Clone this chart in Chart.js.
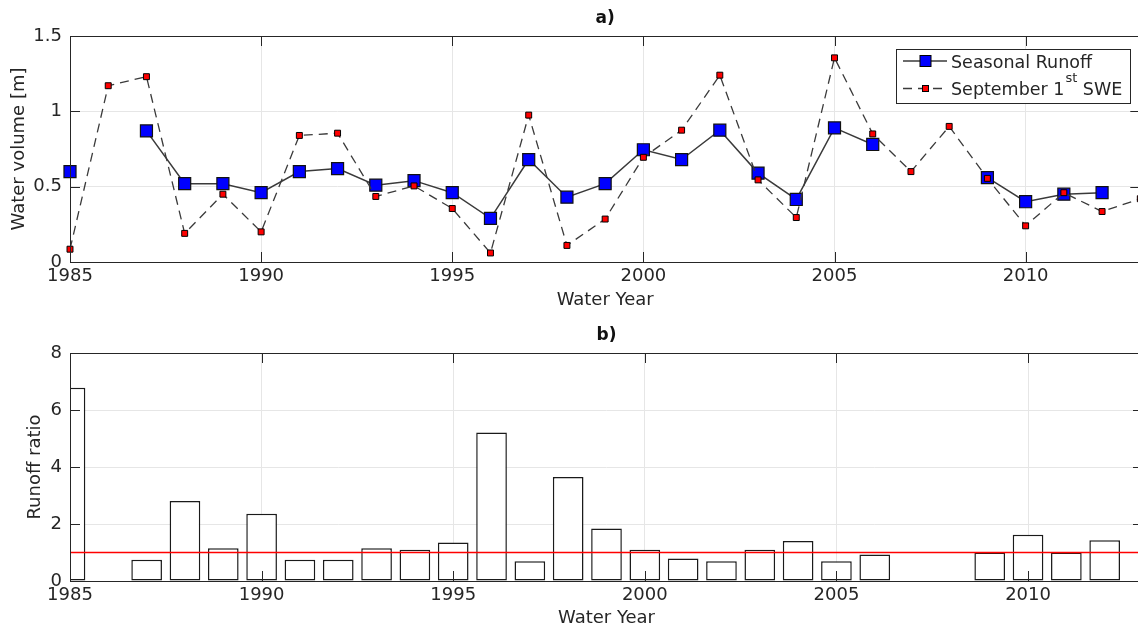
<!DOCTYPE html>
<html>
<head>
<meta charset="utf-8">
<script src="https://cdn.jsdelivr.net/npm/chart.js@4/dist/chart.umd.min.js"></script>
<style>
  html, body { margin: 0; padding: 0; background: #fff; overflow: hidden; width: 1138px; height: 630px; }
  .panel { position: absolute; left: 0; width: 1150px; }
  #top { top: 0; height: 320px; }
  #bottom { top: 320px; height: 310px; }
</style>
</head>
<body>
<div class="panel" id="top"><canvas id="volChart" width="1150" height="320"></canvas></div>
<div class="panel" id="bottom"><canvas id="ratioChart" width="1150" height="310"></canvas></div>
<script>
// data
const years = [1985, 1986, 1987, 1988, 1989, 1990, 1991, 1992, 1993, 1994,
               1995, 1996, 1997, 1998, 1999, 2000, 2001, 2002, 2003, 2004,
               2005, 2006, 2007, 2008, 2009, 2010, 2011, 2012, 2013];
const seasonalRunoff = [0.60, null, 0.87, 0.52, 0.52, 0.46, 0.60, 0.62, 0.51, 0.54,
                        0.46, 0.29, 0.68, 0.43, 0.52, 0.745, 0.68, 0.875, 0.59, 0.415,
                        0.89, 0.78, null, null, 0.56, 0.40, 0.45, 0.46, null];
const septSWE = [0.085, 1.17, 1.23, 0.19, 0.45, 0.20, 0.84, 0.855, 0.435, 0.505,
                 0.355, 0.06, 0.975, 0.11, 0.285, 0.695, 0.875, 1.24, 0.545, 0.295,
                 1.355, 0.85, 0.60, 0.90, 0.555, 0.24, 0.46, 0.335, 0.42];
const runoffRatio = [6.78, null, 0.75, 2.81, 1.15, 2.36, 0.75, 0.75, 1.15, 1.10,
                     1.35, 5.21, 0.69, 3.65, 1.84, 1.10, 0.79, 0.69, 1.10, 1.40,
                     0.69, 0.93, null, null, 1.0, 1.62, 1.0, 1.43, null];
const refYears = [1985, 2013];
const refRatio = [1, 1];

const yearTicks = [1985, 1990, 1995, 2000, 2005, 2010];
const volTicks = [0, 0.5, 1, 1.5];
const ratioTicks = [0, 2, 4, 6, 8];

const FONT = '"DejaVu Sans", sans-serif';
const INK = '#262626';
Chart.defaults.font.family = FONT;
Chart.defaults.color = INK;

// box, inward ticks and panel title, matlab style
const matlabFrame = {
  id: 'matlabFrame',
  afterDatasetsDraw(chart, args, opts) {
    const {ctx, chartArea: a, scales: {x, y}} = chart;
    ctx.save();
    ctx.strokeStyle = INK;
    ctx.lineWidth = 1;
    ctx.beginPath();
    x.ticks.forEach(t => {
      const px = Math.round(x.getPixelForValue(t.value)) + 0.5;
      ctx.moveTo(px, a.bottom); ctx.lineTo(px, a.bottom - 10);
      ctx.moveTo(px, a.top); ctx.lineTo(px, a.top + 10);
    });
    y.ticks.forEach(t => {
      const py = Math.round(y.getPixelForValue(t.value)) + 0.5;
      ctx.moveTo(a.left, py); ctx.lineTo(a.left + 10, py);
      ctx.moveTo(a.right, py); ctx.lineTo(a.right - 10, py);
    });
    ctx.stroke();
    ctx.strokeRect(Math.round(a.left) + 0.5, Math.round(a.top) + 0.5,
                   Math.round(a.width), Math.round(a.height));
    ctx.fillStyle = '#111';
    ctx.font = 'bold 17px ' + FONT;
    ctx.textAlign = 'center';
    ctx.textBaseline = 'middle';
    ctx.fillText(opts.title, (a.left + a.right) / 2, a.top - 17);
    ctx.restore();
  }
};

// legend with the superscript
const volLegend = {
  id: 'volLegend',
  afterDraw(chart) {
    const ctx = chart.ctx;
    ctx.save();
    ctx.fillStyle = '#fff';
    ctx.fillRect(896.5, 49.5, 234, 54);
    ctx.strokeStyle = INK;
    ctx.lineWidth = 1;
    ctx.strokeRect(896.5, 49.5, 234, 54);

    ctx.strokeStyle = '#3a3a3a';
    ctx.lineWidth = 1.3;
    ctx.beginPath(); ctx.moveTo(903, 61); ctx.lineTo(947, 61); ctx.stroke();
    ctx.setLineDash([9, 6]);
    ctx.beginPath(); ctx.moveTo(903, 88.5); ctx.lineTo(947, 88.5); ctx.stroke();
    ctx.setLineDash([]);

    ctx.lineWidth = 1;
    ctx.strokeStyle = '#000';
    ctx.fillStyle = '#0000ff';
    ctx.fillRect(920, 55.5, 11, 11); ctx.strokeRect(920, 55.5, 11, 11);
    ctx.fillStyle = '#ff0000';
    ctx.fillRect(922.5, 85.5, 6, 6); ctx.strokeRect(922.5, 85.5, 6, 6);

    ctx.fillStyle = INK;
    ctx.textBaseline = 'alphabetic';
    ctx.textAlign = 'left';
    ctx.font = '17.5px ' + FONT;
    ctx.fillText('Seasonal Runoff', 951, 67.5);
    let x = 951;
    ctx.fillText('September 1', x, 94.5);
    x += ctx.measureText('September 1').width + 1;
    ctx.font = '13px ' + FONT;
    ctx.fillText('st', x, 82);
    x += ctx.measureText('st').width;
    ctx.font = '17.5px ' + FONT;
    ctx.fillText(' SWE', x, 94.5);
    ctx.restore();
  }
};

function yearAxis(height, titlePad) {
  return {
    type: 'linear', min: 1985, max: 2013, offset: false,
    afterBuildTicks: s => { s.ticks = yearTicks.map(v => ({value: v})); },
    afterFit: s => { s.height = height; },
    grid: {color: '#e6e6e6', drawTicks: false, offset: false},
    border: {display: false},
    ticks: {padding: 4, font: {size: 18}, color: INK, autoSkip: false, maxRotation: 0,
            callback: v => String(v)},
    title: {display: true, text: 'Water Year', font: {size: 18}, color: INK,
            padding: {top: 0, bottom: titlePad}}
  };
}

function valueAxis(tickVals, label, titlePad) {
  return {
    type: 'linear', min: tickVals[0], max: tickVals[tickVals.length - 1],
    afterBuildTicks: s => { s.ticks = tickVals.map(v => ({value: v})); },
    afterFit: s => { s.width = 70; },
    grid: {color: '#e6e6e6', drawTicks: false},
    border: {display: false},
    ticks: {padding: 8, font: {size: 18}, color: INK, callback: v => String(v)},
    title: {display: true, text: label, font: {size: 18}, color: INK,
            padding: {top: titlePad, bottom: 0}}
  };
}

new Chart(document.getElementById('volChart'), {
  type: 'line',
  data: {
    labels: years,
    datasets: [
      {
        label: 'September 1st SWE',
        data: septSWE,
        borderColor: '#3a3a3a', borderWidth: 1.3, borderDash: [9, 6],
        pointStyle: 'rect', pointRadius: 4.2,
        pointBackgroundColor: '#ff0000', pointBorderColor: '#000', pointBorderWidth: 1,
        tension: 0, clip: false, order: 0
      },
      {
        label: 'Seasonal Runoff',
        data: seasonalRunoff,
        borderColor: '#3a3a3a', borderWidth: 1.5,
        pointStyle: 'rect', pointRadius: 8.5,
        pointBackgroundColor: '#0000ff', pointBorderColor: '#111', pointBorderWidth: 1.2,
        tension: 0, spanGaps: false, clip: false, order: 1
      }
    ]
  },
  options: {
    responsive: false,
    animation: false,
    layout: {padding: {top: 36, right: 7, left: 0, bottom: 0}},
    scales: {
      x: yearAxis(58, 9),
      y: valueAxis(volTicks, 'Water volume [m]', 9)
    },
    plugins: {
      legend: {display: false},
      tooltip: {enabled: false},
      matlabFrame: {title: 'a)'}
    }
  },
  plugins: [matlabFrame, volLegend]
});

new Chart(document.getElementById('ratioChart'), {
  type: 'bar',
  data: {
    labels: years,
    datasets: [
      {
        type: 'line',
        label: 'ratio = 1',
        data: refYears.map((yr, i) => ({x: yr, y: refRatio[i]})),
        borderColor: '#ff0000', borderWidth: 1.5, pointRadius: 0, order: 0
      },
      {
        label: 'Runoff ratio',
        data: runoffRatio,
        backgroundColor: '#fff', borderColor: '#1a1a1a', borderWidth: 1.5,
        borderSkipped: false, barPercentage: 1, categoryPercentage: 0.8,
        clip: 0, order: 1
      }
    ]
  },
  options: {
    responsive: false,
    animation: false,
    layout: {padding: {top: 33, right: 7, left: 0, bottom: 0}},
    scales: {
      x: yearAxis(49, 1),
      y: valueAxis(ratioTicks, 'Runoff ratio', 25)
    },
    plugins: {
      legend: {display: false},
      tooltip: {enabled: false},
      matlabFrame: {title: 'b)'}
    }
  },
  plugins: [matlabFrame]
});
</script>
</body>
</html>
